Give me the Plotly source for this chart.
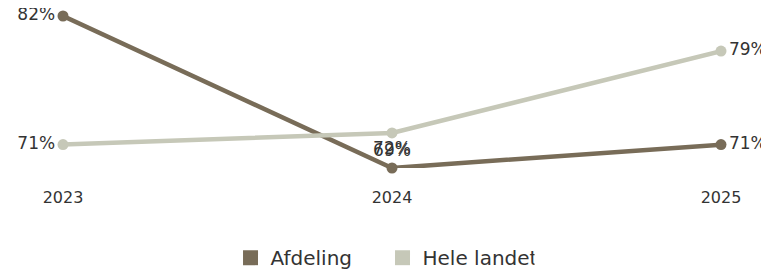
import plotly.graph_objects as go

years = [2023, 2024, 2025]
year_labels = ["2023", "2024", "2025"]
afdeling = [82, 69, 71]
hele_landet = [71, 72, 79]
series_names = ["Afdeling", "Hele landet"]
colors = ["#786c58", "#c6c8b8"]

FONT = "Verdana, DejaVu Sans, sans-serif"
TXT = "#333333"

fig = go.Figure()
pos = {
    "Afdeling": ["middle left", "top center", "middle right"],
    "Hele landet": ["middle left", "bottom center", "middle right"],
}
for name, vals, col in zip(series_names, [afdeling, hele_landet], colors):
    fig.add_trace(go.Scatter(
        x=years, y=vals, mode="lines+markers+text", name=name,
        line=dict(color=col, width=4.5), marker=dict(color=col, size=11),
        text=[f"{v}%" for v in vals], textposition=pos[name],
        textfont=dict(family=FONT, size=17, color=TXT),
        cliponaxis=False, showlegend=False, hoverinfo="skip",
    ))
# legend entries as squares
for name, col in zip(series_names, colors):
    fig.add_trace(go.Scatter(
        x=[None], y=[None], mode="markers", name=name,
        marker=dict(color=col, size=15, symbol="square"),
        showlegend=True,
    ))

fig.update_layout(
    width=761, height=262,
    margin=dict(l=55, r=48, t=8, b=102, autoexpand=False),
    paper_bgcolor="white", plot_bgcolor="white",
    font=dict(family=FONT, size=16, color=TXT),
    xaxis=dict(range=[2023, 2025], tickvals=years, ticktext=year_labels,
               showgrid=False, zeroline=False, showline=False,
               ticklabelstandoff=18, tickfont=dict(size=16, color=TXT)),
    yaxis=dict(range=[69, 82], visible=False),
    legend=dict(orientation="h", x=0.2546, xanchor="left", y=-0.59, yanchor="middle",
                font=dict(size=20, color=TXT), entrywidth=107, entrywidthmode="pixels"),
)
fig.write_html("out.html")
